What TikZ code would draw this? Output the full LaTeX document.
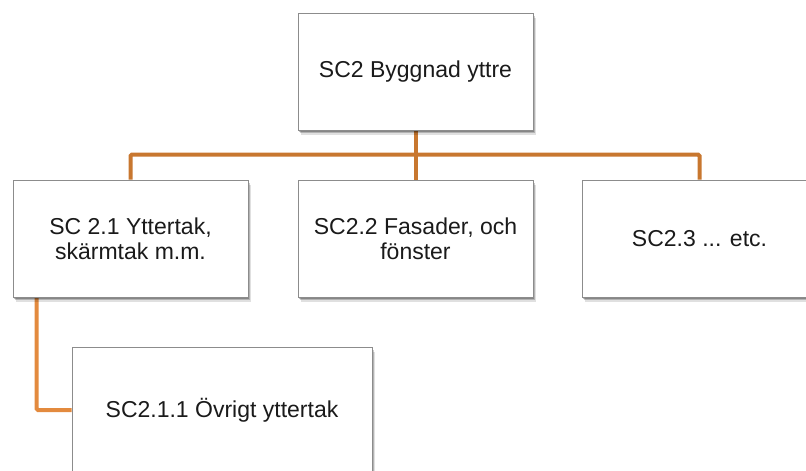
\documentclass[tikz,border=0pt]{standalone}
\usepackage{fontspec}
\setmainfont{Liberation Sans}
\usetikzlibrary{shadows,backgrounds}
\definecolor{connA}{HTML}{C8772F}
\definecolor{connB}{HTML}{E38A3E}
\definecolor{boxline}{HTML}{8C8C8C}
\definecolor{txt}{HTML}{1A1A1A}
\tikzset{
  orgbox/.style={draw=boxline, line width=1pt, fill=white, rectangle,
    minimum width=235pt, minimum height=117pt, inner sep=0pt, align=center,
    text=txt, font=\fontsize{23}{25}\selectfont,
    drop shadow={shadow xshift=2.5pt, shadow yshift=-4.5pt, opacity=0.12, fill=black},
    drop shadow={shadow xshift=1.5pt, shadow yshift=-3pt, opacity=0.2, fill=black},
    drop shadow={shadow xshift=0.8pt, shadow yshift=-1.5pt, opacity=0.25, fill=black}},
  conn/.style={line width=4pt, rounded corners=1.5pt},
}
\begin{document}
\begin{tikzpicture}[x=1pt,y=-1pt]
\useasboundingbox (0,0) rectangle (806,471);
\clip (0,0) rectangle (806,471);
\node[orgbox] (root) at (415.5,71.5) {SC2 Byggnad yttre};
\node[orgbox] (b1) at (130.5,238.5) {SC 2.1 Yttertak,\\skärmtak m.m.};
\node[orgbox] (b2) at (415.5,238.5) {SC2.2 Fasader, och\\fönster};
\node[orgbox] (b3) at (699.5,238.5) {SC2.3 ... etc.};
\node[orgbox, minimum width=300pt, minimum height=126pt] (b4) at (222,410) {SC2.1.1 Övrigt yttertak};
\begin{scope}[on background layer]
\draw[conn, connA] (b1.north) -- ++(0,-25) -| (b3.north);
\draw[conn, connA] (root.south) -- (b2.north);
\draw[conn, connB] ([xshift=24pt]b1.south west) |- (b4.west);
\end{scope}
\end{tikzpicture}
\end{document}
